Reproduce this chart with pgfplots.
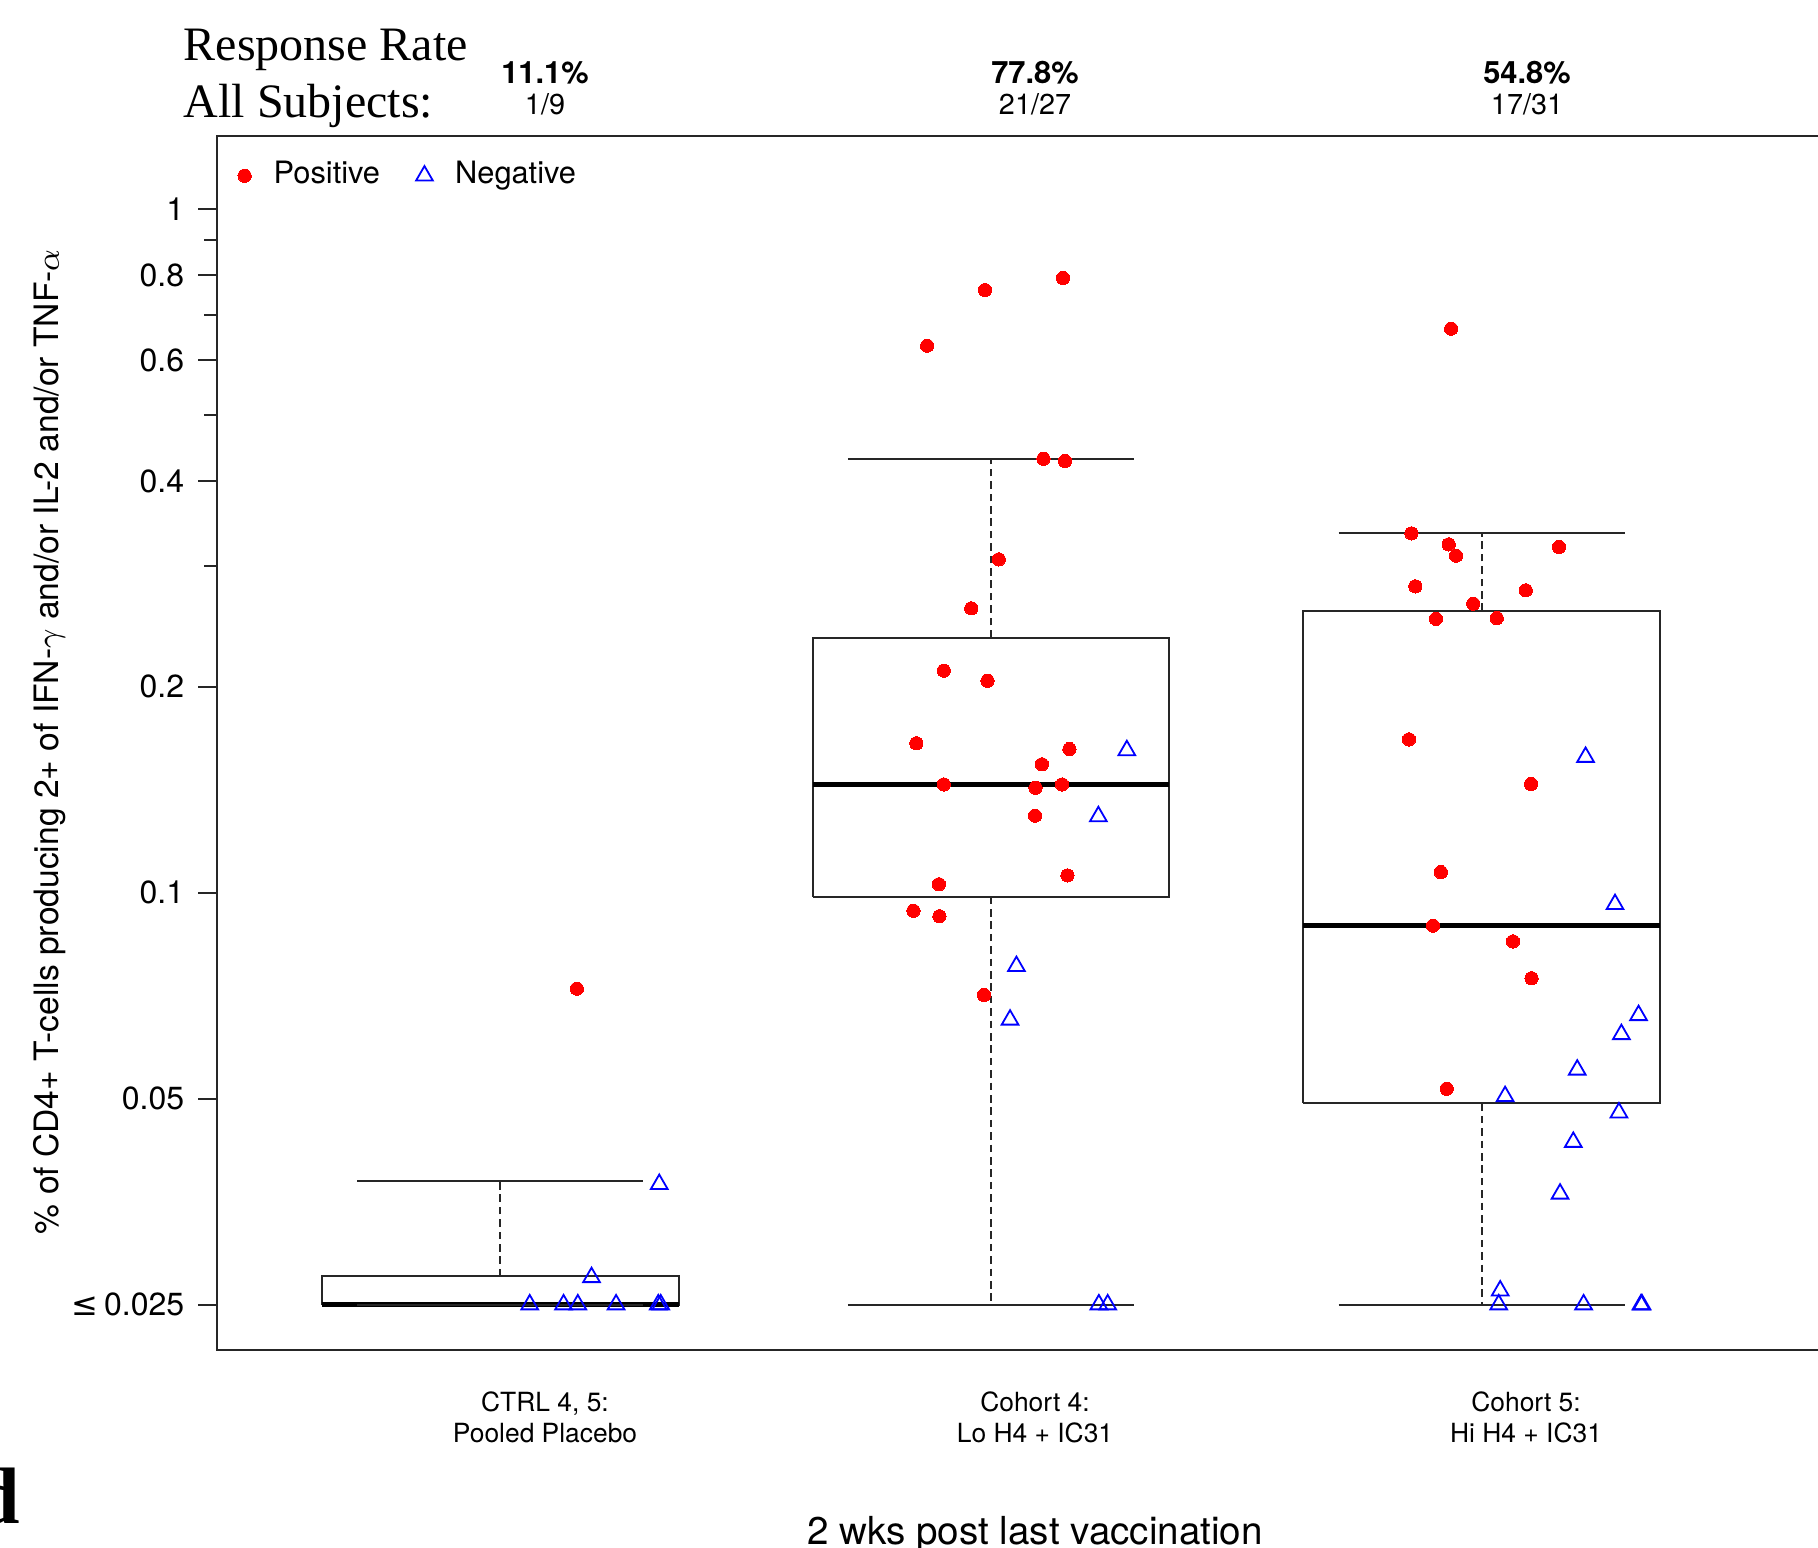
\documentclass[border=0pt]{standalone}
\usepackage{pgfplots}
\pgfplotsset{compat=1.18}
\usepackage{fontspec}
\setmainfont{TeX Gyre Heros}
\newfontfamily\serif{Liberation Serif}
\newfontfamily\sym{DejaVu Sans}
\definecolor{rred}{RGB}{255,0,0}
\definecolor{rblue}{RGB}{0,0,255}
\colorlet{boxcol}{black!85}
\begin{document}
\begin{tikzpicture}
\useasboundingbox (0,0) rectangle (454.5pt,386.75pt);
\clip (0,0) rectangle (454.5pt,386.75pt);
\begin{axis}[
  at={(54.175pt,49.35pt)}, anchor=south west, scale only axis,
  width=403.3pt, height=303.5pt,
  xmin=0.422, xmax=3.71,
  ymode=log, ymin=0.02148, ymax=1.2791,
  axis line style={boxcol, line width=0.5pt},
  xtick=\empty,
  ytick={0.025,0.05,0.1,0.2,0.4,0.6,0.8,1},
  yticklabels={{{\sym ≤}\,0.025},0.05,0.1,0.2,0.4,0.6,0.8,1},
  extra y ticks={0.3,0.5,0.7,0.9}, extra y tick labels={},
  extra y tick style={major tick length=3.1pt},
  minor ytick={},
  tick align=outside, major tick length=4.6pt,
  tick style={boxcol, line width=0.5pt},
  ytick pos=left,
  yticklabel style={font=\fontsize{8}{9}\selectfont},
  /pgf/number format/assume math mode=true,
  clip=false,
  legend columns=2,
  legend image code/.code={\draw plot coordinates {(0pt,0pt)};},
  legend style={at={(rel axis cs:0.0132,0.967)}, anchor=west, draw=none, fill=none,
    inner sep=0pt, outer sep=0pt,
    font=\fontsize{7.7}{9}\selectfont,
    nodes={inner sep=0pt},
    /tikz/every odd column/.append style={column sep=5.6pt},
    /tikz/every even column/.append style={column sep=9pt}},
]
% ---- boxes
\addplot[forget plot, boxcol, line width=0.5pt] coordinates {(0.6366,0.025)(1.3634,0.025)(1.3634,0.02749)(0.6366,0.02749)(0.6366,0.025)};
\addplot[forget plot, boxcol, line width=0.5pt] coordinates {(1.6366,0.0987)(2.3634,0.0987)(2.3634,0.2360)(1.6366,0.2360)(1.6366,0.0987)};
\addplot[forget plot, boxcol, line width=0.5pt] coordinates {(2.6366,0.0492)(3.3634,0.0492)(3.3634,0.2581)(2.6366,0.2581)(2.6366,0.0492)};
% ---- medians
\addplot[forget plot, black, line width=1.2pt] coordinates {(0.6366,0.025)(1.3634,0.025)};
\addplot[forget plot, black, line width=1.2pt] coordinates {(1.6366,0.1440)(2.3634,0.1440)};
\addplot[forget plot, black, line width=1.2pt] coordinates {(2.6366,0.0895)(3.3634,0.0895)};
% ---- whiskers (dashed)
\addplot[forget plot, boxcol, line width=0.5pt, dash pattern=on 1.9pt off 1.2pt] coordinates {(1,0.02749)(1,0.03785)};
\addplot[forget plot, boxcol, line width=0.5pt, dash pattern=on 1.9pt off 1.2pt] coordinates {(2,0.2360)(2,0.4310)};
\addplot[forget plot, boxcol, line width=0.5pt, dash pattern=on 1.9pt off 1.2pt] coordinates {(2,0.0987)(2,0.025)};
\addplot[forget plot, boxcol, line width=0.5pt, dash pattern=on 1.9pt off 1.2pt] coordinates {(3,0.2581)(3,0.3353)};
\addplot[forget plot, boxcol, line width=0.5pt, dash pattern=on 1.9pt off 1.2pt] coordinates {(3,0.0492)(3,0.025)};
% ---- caps
\addplot[forget plot, boxcol, line width=0.5pt] coordinates {(0.7086,0.03785)(1.2914,0.03785)};
\addplot[forget plot, boxcol, line width=0.5pt] coordinates {(0.7086,0.025)(1.2914,0.025)};
\addplot[forget plot, boxcol, line width=0.5pt] coordinates {(1.7086,0.4310)(2.2914,0.4310)};
\addplot[forget plot, boxcol, line width=0.5pt] coordinates {(1.7086,0.025)(2.2914,0.025)};
\addplot[forget plot, boxcol, line width=0.5pt] coordinates {(2.7086,0.3353)(3.2914,0.3353)};
\addplot[forget plot, boxcol, line width=0.5pt] coordinates {(2.7086,0.025)(3.2914,0.025)};
% ---- points
\addplot[only marks, mark=*, mark size=1.66pt, mark options={fill=rred, draw=rred, line width=0pt}] coordinates {
(1.156,0.0724)
(2.147,0.7918)(1.988,0.7604)(1.870,0.6306)(2.107,0.4310)(2.151,0.4277)(2.016,0.3072)(1.960,0.2605)
(1.904,0.2112)(1.993,0.2041)(1.848,0.1654)(2.160,0.1622)(2.104,0.1541)(1.904,0.1440)(2.091,0.1424)
(2.145,0.1440)(2.090,0.1296)(2.156,0.1060)(1.894,0.1029)(1.842,0.0941)(1.895,0.0924)(1.986,0.0709)
(2.938,0.6678)(2.857,0.3353)(2.933,0.3231)(2.948,0.3110)(3.158,0.3202)(2.865,0.2805)(3.090,0.2768)
(2.983,0.2646)(2.907,0.2515)(3.031,0.2521)(2.852,0.1676)(3.101,0.1442)(2.917,0.1072)(2.901,0.0895)
(3.064,0.0849)(3.102,0.0750)(2.929,0.0517)
};
\addlegendentry{Positive}
\addplot[only marks, mark=triangle, mark size=2.41pt, mark options={draw=rblue, line width=0.45pt}] coordinates {
(1.324,0.0375)(1.186,0.0274)(1.060,0.025)(1.129,0.025)(1.158,0.025)(1.236,0.025)(1.322,0.025)(1.327,0.025)
(2.277,0.1615)(2.219,0.1293)(2.052,0.0781)(2.039,0.0652)(2.220,0.025)(2.238,0.025)
(3.212,0.1579)(3.272,0.0962)(3.320,0.0662)(3.285,0.0621)(3.195,0.0551)(3.048,0.0504)(3.280,0.0477)
(3.187,0.0432)(3.160,0.0363)(3.038,0.0262)(3.035,0.025)(3.208,0.025)(3.325,0.025)(3.327,0.025)
};
\addlegendentry{Negative}
\end{axis}
\begin{scope}[x=0.25pt,y=0.25pt]
\node[rotate=90, font=\fontsize{8.4}{10}\selectfont] at (50,805) {\% of CD4+ T-cells producing 2+ of IFN-$\gamma$ and/or IL-2 and/or TNF-$\alpha$};
\node[anchor=base west, font=\serif\fontsize{12}{14}\selectfont, inner sep=0pt] at (183,1486.8) {Response Rate};
\node[anchor=base west, font=\serif\fontsize{12}{14}\selectfont, inner sep=0pt] at (183,1429.7) {All Subjects:};
\node[anchor=base, font=\bfseries\fontsize{7.7}{9}\selectfont, inner sep=0pt] at (545,1463.5) {11.1\%};
\node[anchor=base, font=\bfseries\fontsize{7.7}{9}\selectfont, inner sep=0pt] at (1035,1463.5) {77.8\%};
\node[anchor=base, font=\bfseries\fontsize{7.7}{9}\selectfont, inner sep=0pt] at (1527,1463.5) {54.8\%};
\node[anchor=base, font=\fontsize{7.2}{9}\selectfont, inner sep=0pt] at (545,1432.7) {1/9};
\node[anchor=base, font=\fontsize{7.2}{9}\selectfont, inner sep=0pt] at (1035,1432.7) {21/27};
\node[anchor=base, font=\fontsize{7.2}{9}\selectfont, inner sep=0pt] at (1527,1432.7) {17/31};
\node[anchor=base, font=\fontsize{6.6}{8}\selectfont, inner sep=0pt] at (545,135.3) {CTRL 4, 5:};
\node[anchor=base, font=\fontsize{6.6}{8}\selectfont, inner sep=0pt] at (545,104.3) {Pooled Placebo};
\node[anchor=base, font=\fontsize{6.6}{8}\selectfont, inner sep=0pt] at (1035,135.3) {Cohort 4:};
\node[anchor=base, font=\fontsize{6.6}{8}\selectfont, inner sep=0pt] at (1035,104.3) {Lo H4 + IC31};
\node[anchor=base, font=\fontsize{6.6}{8}\selectfont, inner sep=0pt] at (1526,135.3) {Cohort 5:};
\node[anchor=base, font=\fontsize{6.6}{8}\selectfont, inner sep=0pt] at (1526,104.3) {Hi H4 + IC31};
\node[anchor=base, font=\fontsize{9.65}{11}\selectfont, inner sep=0pt] at (1035,3) {2 wks post last vaccination};
\node[anchor=base east, font=\serif\bfseries\fontsize{20}{24}\selectfont, inner sep=0pt] at (21,24) {d};
\end{scope}
\end{tikzpicture}
\end{document}
